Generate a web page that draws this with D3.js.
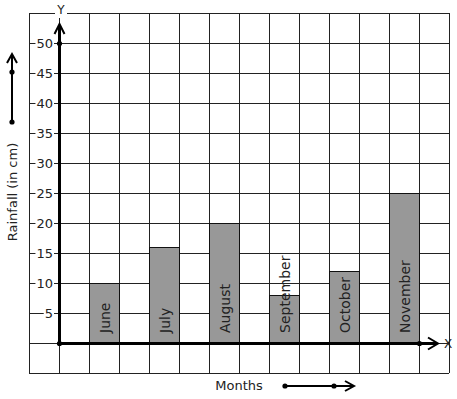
<!DOCTYPE html>
<html>
<head>
<meta charset="utf-8">
<script src="https://cdn.jsdelivr.net/npm/d3@7"></script>
<style>
  body { margin: 0; background: #fff; }
  text { font-family: "DejaVu Sans", sans-serif; fill: #222; }
</style>
</head>
<body>
<div id="chart"></div>
<script>
// Data
const months = ["June", "July", "August", "September", "October", "November"];
const rainfall = [10, 16, 20, 8, 12, 25];
const yTicks = [5, 10, 15, 20, 25, 30, 35, 40, 45, 50];

const width = 457, height = 399;

// column index -> pixel (y axis sits on column 0, bars on odd columns)
const x = d3.scaleLinear().domain([-1, 13]).range([29, 449]);
const y = d3.scaleLinear().domain([-5, 55]).range([373, 13]);
const colW = x(1) - x(0);

const svg = d3.select("#chart")
  .append("svg")
  .attr("width", width)
  .attr("height", height);

// Grid
const grid = svg.append("g").attr("stroke", "#222").attr("stroke-width", 1);
grid.selectAll(".v")
  .data(d3.range(-1, 14))
  .enter()
  .append("line")
  .attr("x1", d => x(d) + 0.5).attr("x2", d => x(d) + 0.5)
  .attr("y1", y(55)).attr("y2", y(-5));
grid.selectAll(".h")
  .data(d3.range(-5, 56, 5))
  .enter()
  .append("line")
  .attr("y1", d => y(d) + 0.5).attr("y2", d => y(d) + 0.5)
  .attr("x1", x(-1)).attr("x2", x(13));

// Bars
const bars = svg.append("g")
  .selectAll("g")
  .data(months.map((m, i) => ({month: m, value: rainfall[i], col: 2 * i + 1})))
  .enter()
  .append("g");

bars.append("rect")
  .attr("x", d => x(d.col) + 0.5)
  .attr("y", d => y(d.value) + 0.5)
  .attr("width", colW)
  .attr("height", d => y(0) - y(d.value))
  .attr("fill", "#989898")
  .attr("stroke", "#111")
  .attr("stroke-width", 1);

bars.append("text")
  .attr("transform", d => "translate(" + (x(d.col) + colW / 2 + 5.5) + "," + (y(0) - 10) + ") rotate(-90)")
  .attr("font-size", 14)
  .text(d => d.month);

// Y tick labels
const yAxis = svg.append("g")
  .attr("transform", "translate(" + (x(0) - 4) + ",0)")
  .call(d3.axisLeft(y).tickValues(yTicks).tickSize(0).tickPadding(2));
yAxis.select(".domain").remove();
yAxis.selectAll(".tick text")
  .attr("font-size", 13)
  .attr("font-family", "DejaVu Sans, sans-serif")
  .attr("fill", "#222")
  .attr("dy", "0.35em");
yAxis.selectAll(".tick").each(function() {
  const t = d3.select(this).select("text");
  const b = t.node().getBBox();
  d3.select(this).insert("rect", "text")
    .attr("x", b.x - 1).attr("y", b.y + 1)
    .attr("width", b.width + 2).attr("height", b.height - 2)
    .attr("fill", "#fff");
});

// Axes with arrows
const axes = svg.append("g")
  .attr("stroke", "#000")
  .attr("fill", "none")
  .attr("stroke-width", 3);

const ox = x(0) + 0.5, oy = y(0) + 0.5;
axes.append("line").attr("x1", ox).attr("y1", oy).attr("x2", ox).attr("y2", 25);
axes.append("path").attr("stroke-width", 2).attr("d", "M" + (ox - 5) + ",34L" + ox + ",24L" + (ox + 5) + ",34");
axes.append("line").attr("x1", ox).attr("y1", oy).attr("x2", 437).attr("y2", oy);
axes.append("path").attr("stroke-width", 2).attr("d", "M428," + (oy - 6) + "L438," + oy + "L428," + (oy + 6));

// dots
const dots = [[ox, oy], [ox, y(50) + 0.5], [x(12) + 0.5, oy], [12, 72], [12, 122], [285, 386], [334, 386]];
svg.append("g").selectAll("circle")
  .data(dots)
  .enter()
  .append("circle")
  .attr("cx", d => d[0]).attr("cy", d => d[1])
  .attr("r", 2.6)
  .attr("fill", "#000");

// Axis letters
const yLetter = svg.append("g");
yLetter.append("rect").attr("x", 55).attr("y", 4).attr("width", 12).attr("height", 14).attr("fill", "#fff");
yLetter.append("text").attr("x", 61).attr("y", 14).attr("text-anchor", "middle").attr("font-size", 12).text("Y");
svg.append("text").attr("x", 448).attr("y", oy + 4).attr("text-anchor", "middle").attr("font-size", 12).text("X");

// Axis titles + direction arrows
svg.append("text")
  .attr("transform", "translate(17,192) rotate(-90)")
  .attr("text-anchor", "middle")
  .attr("font-size", 13)
  .text("Rainfall (in cm)");

svg.append("text")
  .attr("x", 239).attr("y", 390)
  .attr("text-anchor", "middle")
  .attr("font-size", 13)
  .text("Months");

const arrows = svg.append("g").attr("stroke", "#000").attr("fill", "none").attr("stroke-width", 2);
arrows.append("line").attr("x1", 12).attr("y1", 122).attr("x2", 12).attr("y2", 55);
arrows.append("path").attr("d", "M7,63L12,54L17,63");
arrows.append("line").attr("x1", 285).attr("y1", 386).attr("x2", 353).attr("y2", 386);
arrows.append("path").attr("d", "M345,381L354,386L345,391");
</script>
</body>
</html>
